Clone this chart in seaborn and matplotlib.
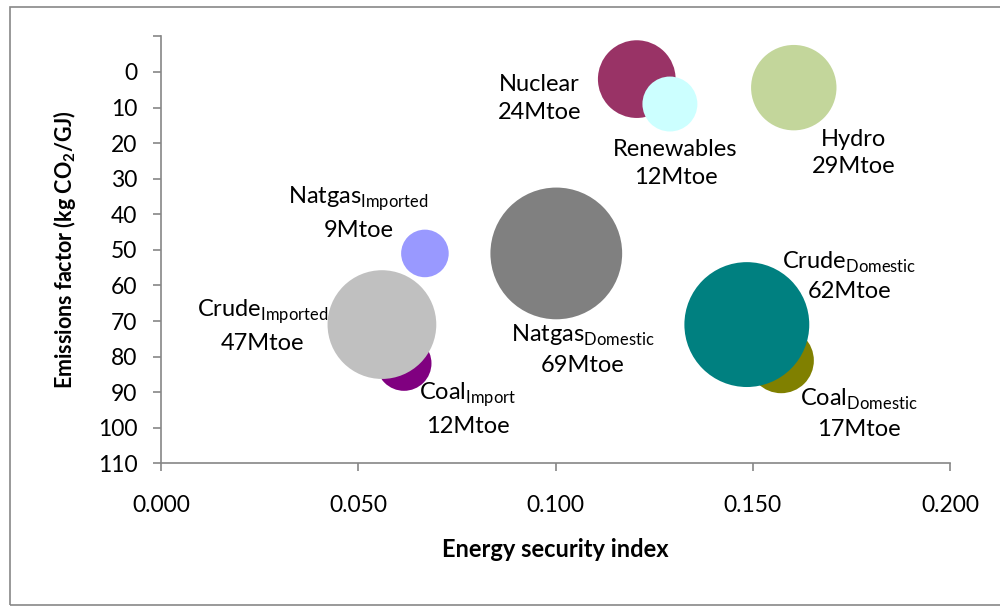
import matplotlib
matplotlib.use("Agg")
import matplotlib.pyplot as plt
from matplotlib.patches import Rectangle
import seaborn as sns
import pandas as pd

# data
sources = ['Coal_Import', 'Coal_Domestic', 'Natgas_Imported', 'Natgas_Domestic',
           'Nuclear', 'Renewables', 'Hydro', 'Crude_Imported', 'Crude_Domestic']
security = [0.0616, 0.1572, 0.0669, 0.1002, 0.1206, 0.1290, 0.1604, 0.0560, 0.1485]
emissions = [81.9, 81.1, 51.0, 51.0, 2.0, 9.0, 4.4, 71.0, 71.0]
mtoe = [12, 17, 9, 69, 24, 12, 29, 47, 62]
labels = [r'Coal$_{\mathregular{Import}}$', r'Coal$_{\mathregular{Domestic}}$',
          r'Natgas$_{\mathregular{Imported}}$', r'Natgas$_{\mathregular{Domestic}}$',
          'Nuclear', 'Renewables', 'Hydro',
          r'Crude$_{\mathregular{Imported}}$', r'Crude$_{\mathregular{Domestic}}$']

colors = {'Coal_Import': '#800080', 'Coal_Domestic': '#808000',
          'Natgas_Imported': '#9999FF', 'Natgas_Domestic': '#808080',
          'Nuclear': '#993366', 'Renewables': '#CCFFFF', 'Hydro': '#C3D69B',
          'Crude_Imported': '#C0C0C0', 'Crude_Domestic': '#008080'}

# label offsets (points) from bubble centre
offsets = {'Coal_Import': (46, -33), 'Coal_Domestic': (56, -38),
           'Natgas_Imported': (-48, 29), 'Natgas_Domestic': (19, -69),
           'Nuclear': (-70, -14), 'Renewables': (4, -43), 'Hydro': (43, -47),
           'Crude_Imported': (-86, -1), 'Crude_Domestic': (74, 35)}

df = pd.DataFrame({'source': sources, 'x': security, 'y': emissions, 'mtoe': mtoe})

sns.set_style("white")
plt.rcParams['font.family'] = ['Lato', 'DejaVu Sans']
plt.rcParams['mathtext.fontset'] = 'custom'
plt.rcParams['mathtext.rm'] = 'Lato'
plt.rcParams['mathtext.bf'] = 'Lato:bold'
plt.rcParams['text.color'] = 'black'
plt.rcParams['axes.labelcolor'] = 'black'

fig = plt.figure(figsize=(10, 6.07), dpi=100)
ax = fig.add_axes([0.161, 0.2367, 0.789, 0.7033])

k = 130.4  # points^2 per Mtoe
sns.scatterplot(data=df, x='x', y='y', hue='source', palette=colors,
                size='mtoe', sizes=(k * min(mtoe), k * max(mtoe)),
                size_norm=(min(mtoe), max(mtoe)), linewidth=0, alpha=1,
                legend=False, ax=ax, zorder=3)

for s, x, y, lab, m in zip(sources, security, emissions, labels, mtoe):
    ax.annotate(f'{lab}\n{m}Mtoe', (x, y), xytext=offsets[s],
                textcoords='offset points', ha='center', va='center',
                fontsize=17, linespacing=1.4, color='black', zorder=4)

ax.set_xlim(0, 0.2)
ax.set_ylim(110, -10)
ax.set_xticks([0, 0.05, 0.1, 0.15, 0.2])
ax.set_xticklabels(['0.000', '0.050', '0.100', '0.150', '0.200'])
ax.set_yticks(range(-10, 111, 10))
ax.set_yticklabels([''] + [str(v) for v in range(0, 111, 10)])

for side in ['top', 'right']:
    ax.spines[side].set_visible(False)
for side in ['left', 'bottom']:
    ax.spines[side].set_color('#868686')
    ax.spines[side].set_linewidth(1.2)
ax.tick_params(axis='both', which='both', direction='out', length=6, width=1.2,
               color='#868686', labelsize=16.5, labelcolor='black')
ax.tick_params(axis='y', pad=11, left=True)
ax.tick_params(axis='x', pad=17, bottom=True)

ax.set_xlabel('Energy security index', fontsize=17, fontweight='bold', labelpad=16)
ax.set_ylabel(r'Emissions factor (kg CO$_{\mathbf{2}}$/GJ)', fontsize=15.5,
              fontweight='bold', labelpad=14)

fig.patches.append(Rectangle((0.010, 0.003), 1.0, 0.986, transform=fig.transFigure,
                             fill=False, edgecolor='#888888', linewidth=1.2))

fig.savefig('out.png', dpi=100)
